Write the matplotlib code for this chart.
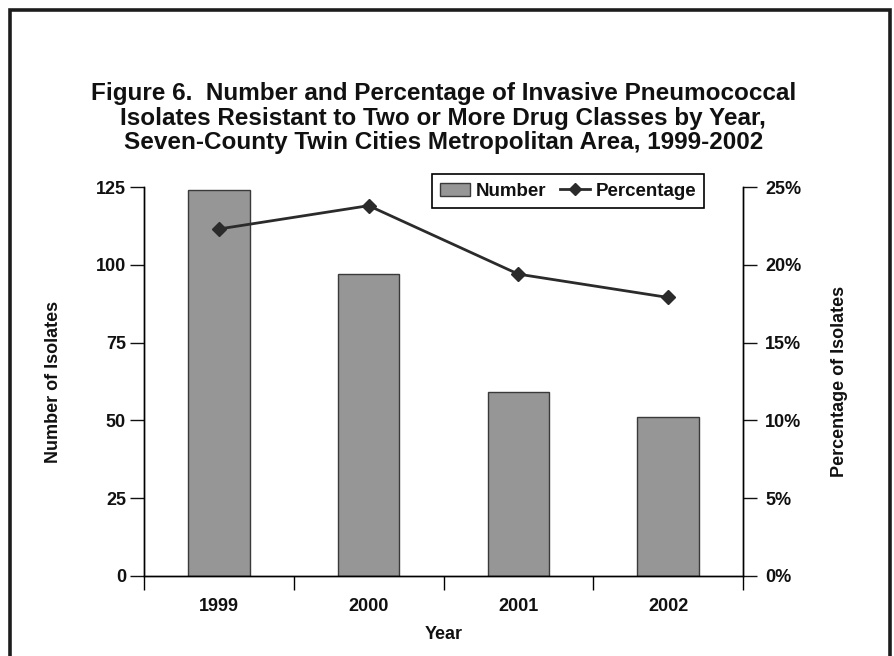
import matplotlib

matplotlib.use("Agg")
import matplotlib.pyplot as plt
from matplotlib.patches import Rectangle
from matplotlib.lines import Line2D
from matplotlib.ticker import FuncFormatter

years = ["1999", "2000", "2001", "2002"]
counts = [124, 97, 59, 51]
percents = [22.3, 23.8, 19.4, 17.9]
count_ticks = [0, 25, 50, 75, 100, 125]
pct_ticks = [0, 5, 10, 15, 20, 25]

TITLE = ("Figure 6.  Number and Percentage of Invasive Pneumococcal\n"
         "Isolates Resistant to Two or More Drug Classes by Year,\n"
         "Seven-County Twin Cities Metropolitan Area, 1999-2002")

INK = "#111111"
BAR = "#969696"
LINE = "#2b2b2b"

plt.rcParams.update({
    "font.family": ["Liberation Sans", "DejaVu Sans"],
    "font.weight": "bold",
    "axes.linewidth": 1.0,
})

fig = plt.figure(figsize=(8.94, 6.56), dpi=100)
ax = fig.add_axes([144 / 894, 80 / 656, 599 / 894, 389 / 656])

# outer frame round the whole figure (runs off the bottom edge)
fig.patches.append(Rectangle((10 / 894, -0.05), 880 / 894, 1.05 - 10 / 656,
                             transform=fig.transFigure, fill=False,
                             lw=2.6, ec="#1c1c1c", zorder=10))

fig.text(0.496, 1 - 118 / 656, TITLE, ha="center", va="center",
         fontsize=17.5, fontweight="bold", color=INK, linespacing=1.1)

x = list(range(len(years)))
ax.bar(x, counts, width=0.41, color=BAR, edgecolor="#3a3a3a", lw=1.0,
       zorder=2)
ax.set_xlim(-0.5, len(years) - 0.5)
ax.set_ylim(0, 125)
ax.set_yticks(count_ticks)
ax.set_xticks(x)
ax.set_xticklabels(years)
ax.set_xticks([i - 0.5 for i in range(len(years) + 1)], minor=True)
ax.tick_params(axis="x", which="major", length=0, pad=16, labelsize=13,
               colors=INK)
ax.tick_params(axis="x", which="minor", length=10, width=1.0,
               direction="out")
ax.tick_params(axis="y", length=10, width=1.0, direction="out", pad=3,
               labelsize=13, colors=INK)
ax.spines["top"].set_visible(False)
for s in ("left", "bottom", "right"):
    ax.spines[s].set_color("black")
ax.set_xlabel("Year", fontsize=13, fontweight="bold", color=INK, labelpad=8)
ax.set_ylabel("Number of Isolates", fontsize=13, fontweight="bold",
              color=INK, labelpad=24)

ax2 = ax.twinx()
ax2.plot(x, percents, color=LINE, lw=2.0, marker="D", ms=7, zorder=3)
ax2.set_ylim(0, 25)
ax2.set_yticks(pct_ticks)
ax2.yaxis.set_major_formatter(FuncFormatter(lambda v, _: f"{v:.0f}%"))
ax2.tick_params(axis="y", length=10, width=1.0, direction="out", pad=6,
                labelsize=13, colors=INK)
ax2.spines["top"].set_visible(False)
ax2.set_ylabel("Percentage of Isolates", fontsize=13, fontweight="bold",
               color=INK, labelpad=21)

handles = [
    Rectangle((0, 0), 1, 1, fc=BAR, ec="#3a3a3a", lw=1.0),
    Line2D([], [], color=LINE, lw=2.0, marker="D", ms=6),
]
leg = ax2.legend(handles, ["Number", "Percentage"], ncol=2,
                 loc="upper left", bbox_to_anchor=(288 / 599, 1.033),
                 borderaxespad=0, frameon=True, fancybox=False,
                 edgecolor="black", framealpha=1, borderpad=0.45,
                 handlelength=1.6, handletextpad=0.3, columnspacing=0.7,
                 prop={"weight": "bold", "size": 13.5})
leg.get_frame().set_linewidth(1.2)
for t in leg.get_texts():
    t.set_color(INK)

fig.savefig("out.png", dpi=100)
